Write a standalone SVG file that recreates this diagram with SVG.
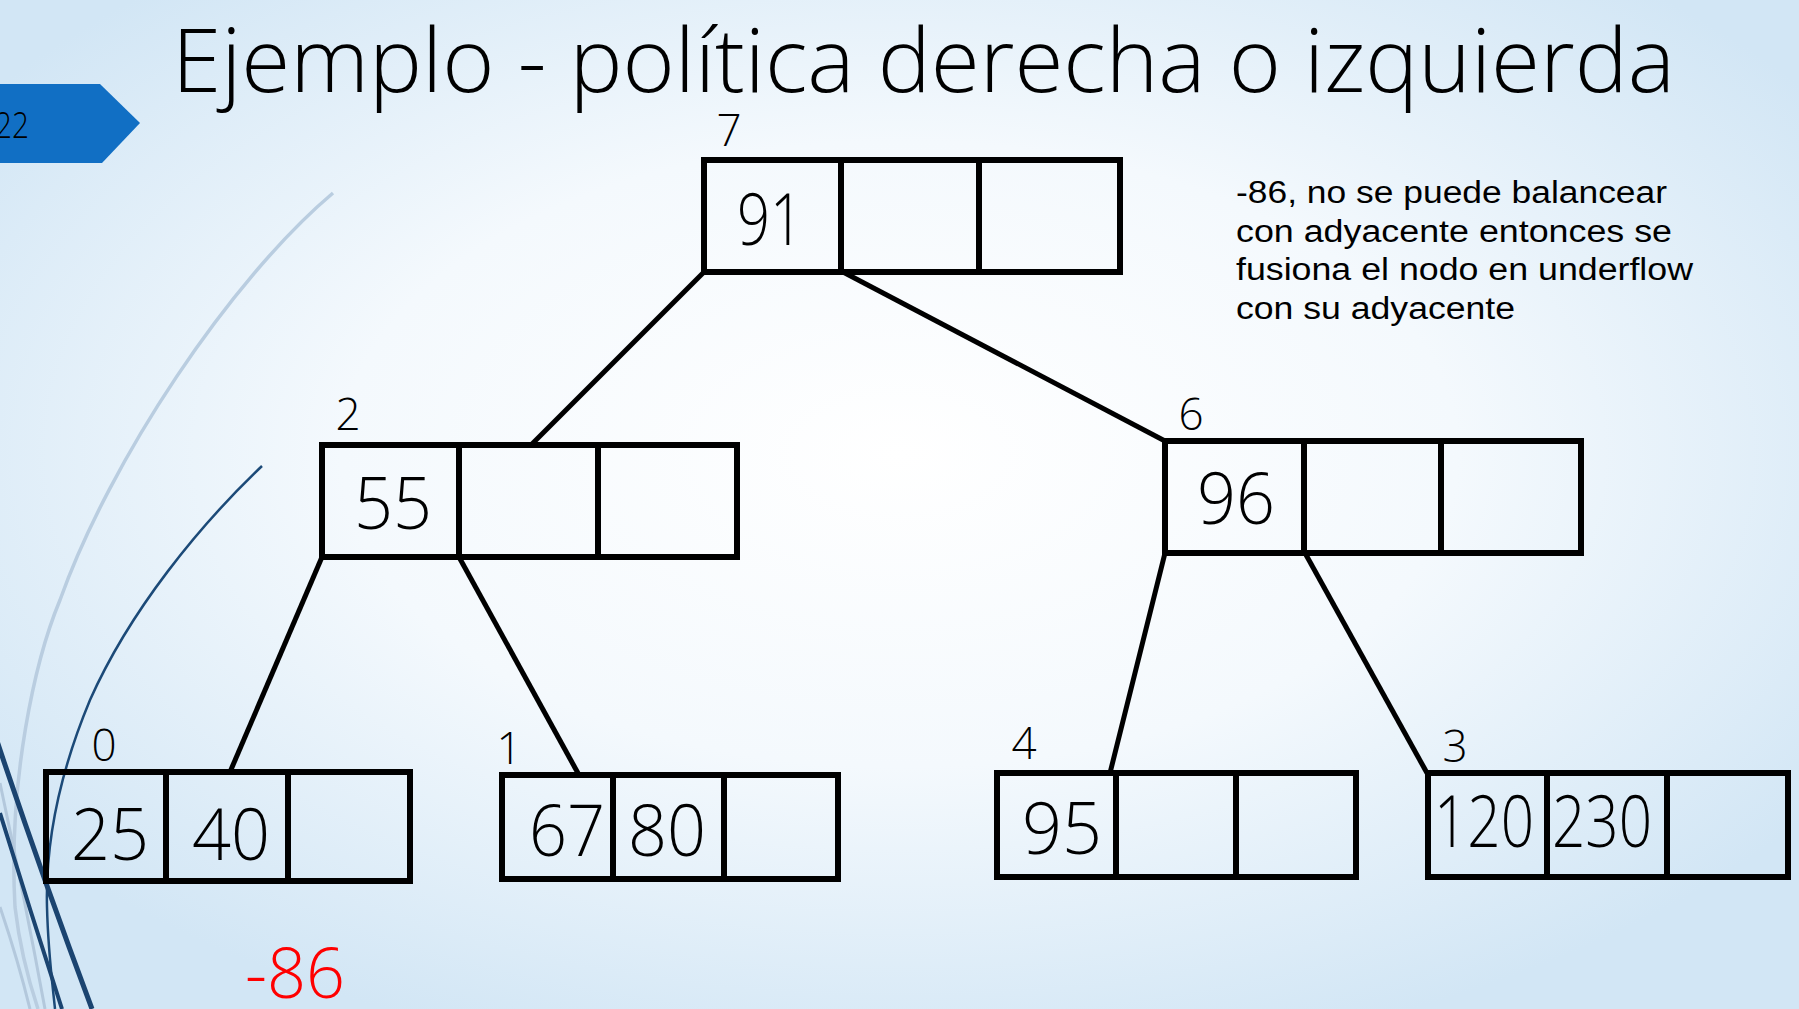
<svg xmlns="http://www.w3.org/2000/svg" width="1799" height="1009" viewBox="0 0 1799 1009">
<defs>
<radialGradient id="bg" cx="50%" cy="45%" r="62%">
<stop offset="0" stop-color="#ffffff"/>
<stop offset="0.5" stop-color="#f4f9fd"/>
<stop offset="1" stop-color="#d2e6f5"/>
</radialGradient>
<style>
.box{fill:none;stroke:#000;stroke-width:6;stroke-linejoin:miter}
.div{stroke:#000;stroke-width:6}
.edge{stroke:#000;stroke-width:5;fill:none}
.num{font-family:"Open Sans","Liberation Sans",Arial,sans-serif;font-weight:300;font-size:72px;fill:#000;text-anchor:middle}
.lbl{font-family:"Open Sans","Liberation Sans",Arial,sans-serif;font-weight:300;font-size:44px;fill:#000;text-anchor:middle}
.note{font-family:"Liberation Sans",Arial,sans-serif;font-size:31px;fill:#000}
</style>
</defs>
<rect x="0" y="0" width="1799" height="1009" fill="url(#bg)"/>
<g id="decor" fill="none">
<path d="M333,193 C230,280 110,460 60,600 C35,660 8,780 15,907 C20,950 30,985 38,1009" stroke="#b9cde0" stroke-width="3.5"/>
<path d="M0,783 Q25,900 45,1009" stroke="#b3c8dc" stroke-width="3"/>
<path d="M0,907 Q18,960 30,1009" stroke="#b3c8dc" stroke-width="3"/>
<path d="M262,466 C200,525 130,610 90,700 C65,760 45,830 47,907 C48,950 52,980 55,1009" stroke="#1c4a78" stroke-width="2.5"/>
<path d="M-5,735 Q40,870 92,1009" stroke="#1b4470" stroke-width="5"/>
<path d="M0,813 Q30,910 62,1009" stroke="#1b4470" stroke-width="4"/>
</g>
<g id="tab">
<polygon points="0,84 100,84 140,123 102,163 0,163" fill="#116fc4"/>
<text x="29" y="138" font-family="Open Sans,Liberation Sans,Arial,sans-serif" font-weight="300" font-size="36" text-anchor="end" textLength="34" lengthAdjust="spacingAndGlyphs" fill="#000">22</text>
</g>
<text id="title" x="172" y="92" font-family="Open Sans,Liberation Sans,Arial,sans-serif" font-weight="300" font-size="88" textLength="1503" lengthAdjust="spacingAndGlyphs" fill="#000">Ejemplo - política derecha o izquierda</text>
<g id="note">
<text class="note" x="1236" y="203" textLength="431" lengthAdjust="spacingAndGlyphs">-86, no se puede balancear</text>
<text class="note" x="1236" y="242" textLength="436" lengthAdjust="spacingAndGlyphs">con adyacente entonces se</text>
<text class="note" x="1236" y="280" textLength="457" lengthAdjust="spacingAndGlyphs">fusiona el nodo en underflow</text>
<text class="note" x="1236" y="319" textLength="279" lengthAdjust="spacingAndGlyphs">con su adyacente</text>
</g>
<g id="connectors">
<line class="edge" x1="704" y1="272" x2="531" y2="445"/>
<line class="edge" x1="843" y1="272" x2="1165" y2="441"/>
<line class="edge" x1="322" y1="557" x2="230" y2="772"/>
<line class="edge" x1="459" y1="557" x2="579" y2="775"/>
<line class="edge" x1="1165" y1="553" x2="1110" y2="773"/>
<line class="edge" x1="1305" y1="553" x2="1427" y2="773"/>
</g>
<g id="node7">
<rect class="box" x="704" y="160" width="416" height="112"/>
<line class="div" x1="841" y1="160" x2="841" y2="272"/>
<line class="div" x1="979" y1="160" x2="979" y2="272"/>
<text class="lbl" x="729" y="146">7</text>
<text class="num" x="770" y="245" textLength="66" lengthAdjust="spacingAndGlyphs">91</text>
</g>
<g id="node2">
<rect class="box" x="322" y="445" width="415" height="112"/>
<line class="div" x1="459" y1="445" x2="459" y2="557"/>
<line class="div" x1="598" y1="445" x2="598" y2="557"/>
<text class="lbl" x="348" y="430">2</text>
<text class="num" x="393" y="529" textLength="78" lengthAdjust="spacingAndGlyphs">55</text>
</g>
<g id="node6">
<rect class="box" x="1165" y="441" width="416" height="112"/>
<line class="div" x1="1304" y1="441" x2="1304" y2="553"/>
<line class="div" x1="1441" y1="441" x2="1441" y2="553"/>
<text class="lbl" x="1191" y="430">6</text>
<text class="num" x="1236" y="524" textLength="78" lengthAdjust="spacingAndGlyphs">96</text>
</g>
<g id="node0">
<rect class="box" x="46" y="772" width="364" height="109"/>
<line class="div" x1="166" y1="772" x2="166" y2="881"/>
<line class="div" x1="288" y1="772" x2="288" y2="881"/>
<text class="lbl" x="104" y="761">0</text>
<text class="num" x="110" y="860" textLength="78" lengthAdjust="spacingAndGlyphs">25</text>
<text class="num" x="231" y="860" textLength="78" lengthAdjust="spacingAndGlyphs">40</text>
</g>
<g id="node1">
<rect class="box" x="502" y="775" width="336" height="104"/>
<line class="div" x1="613" y1="775" x2="613" y2="879"/>
<line class="div" x1="724" y1="775" x2="724" y2="879"/>
<text class="lbl" x="509" y="764">1</text>
<text class="num" x="567" y="856" textLength="76" lengthAdjust="spacingAndGlyphs">67</text>
<text class="num" x="667" y="856" textLength="78" lengthAdjust="spacingAndGlyphs">80</text>
</g>
<g id="node4">
<rect class="box" x="997" y="773" width="359" height="104"/>
<line class="div" x1="1116" y1="773" x2="1116" y2="877"/>
<line class="div" x1="1236" y1="773" x2="1236" y2="877"/>
<text class="lbl" x="1024" y="759">4</text>
<text class="num" x="1062" y="854" textLength="80" lengthAdjust="spacingAndGlyphs">95</text>
</g>
<g id="node3">
<rect class="box" x="1428" y="773" width="360" height="104"/>
<line class="div" x1="1547" y1="773" x2="1547" y2="877"/>
<line class="div" x1="1667" y1="773" x2="1667" y2="877"/>
<text class="lbl" x="1455" y="762">3</text>
<text class="num" x="1484" y="847" font-size="66" textLength="100" lengthAdjust="spacingAndGlyphs">120</text>
<text class="num" x="1602" y="847" font-size="66" textLength="100" lengthAdjust="spacingAndGlyphs">230</text>
</g>
<text id="deleted" x="295" y="998" font-family="Open Sans,Liberation Sans,Arial,sans-serif" font-weight="300" font-size="70" text-anchor="middle" textLength="100" lengthAdjust="spacingAndGlyphs" fill="#ff0000">-86</text>
</svg>
